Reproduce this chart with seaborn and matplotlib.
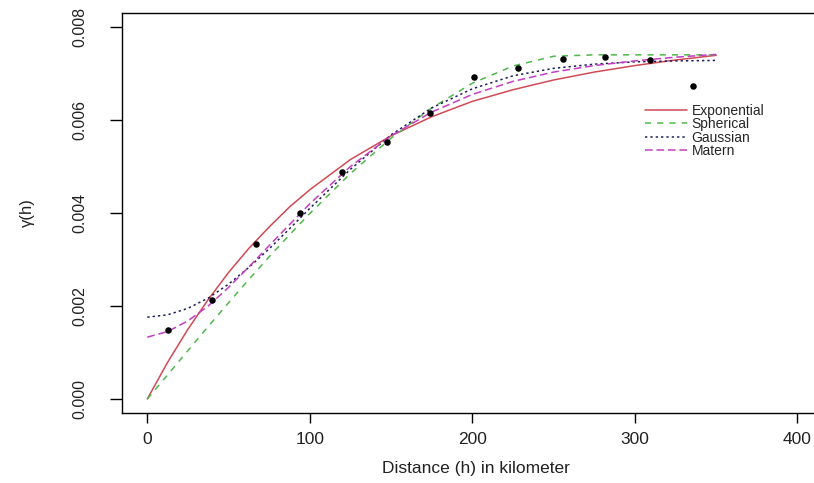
import numpy as np
import pandas as pd
import matplotlib
matplotlib.use("Agg")
import matplotlib.pyplot as plt
import seaborn as sns

# empirical semivariogram (lag distance in km, semivariance)
lag_km = [12.9, 39.6, 66.8, 93.8, 120.0, 147.2, 173.8, 201.0, 228.0, 255.7, 281.5, 309.0, 335.7]
gamma_emp = [0.00148, 0.00213, 0.00333, 0.00401, 0.00488, 0.00552, 0.00614, 0.00692,
             0.00712, 0.00731, 0.00735, 0.00728, 0.00673]

# fitted model curves (denser near the origin)
h_fit = [0, 12.5, 25, 37.5, 50, 62.5, 75, 87.5, 100, 125, 150, 175, 200,
         225, 250, 275, 300, 325, 350]
gamma_exponential = [0.0, 0.00079, 0.00150, 0.00214, 0.00272, 0.00324, 0.00370, 0.00413,
                     0.00450, 0.00515, 0.00566, 0.00607, 0.00640, 0.00665, 0.00686,
                     0.00703, 0.00717, 0.00729, 0.00739]
gamma_spherical = [0.0, 0.00052, 0.00104, 0.00156, 0.00207, 0.00257, 0.00306, 0.00353,
                   0.00399, 0.00485, 0.00561, 0.00626, 0.00679, 0.00716, 0.00737,
                   0.00740, 0.00740, 0.00740, 0.00740]
gamma_gaussian = [0.00176, 0.00181, 0.00195, 0.00217, 0.00247, 0.00283, 0.00323, 0.00366,
                  0.00410, 0.00494, 0.00568, 0.00626, 0.00667, 0.00695, 0.00711,
                  0.00720, 0.00725, 0.00727, 0.00728]
gamma_matern = [0.00133, 0.00145, 0.00168, 0.00200, 0.00240, 0.00284, 0.00330, 0.00375,
                0.00420, 0.00500, 0.00566, 0.00617, 0.00655, 0.00683, 0.00703,
                0.00717, 0.00727, 0.00735, 0.00741]

models = ["Exponential", "Spherical", "Gaussian", "Matern"]
colors = ["#d04a55", "#4fb84a", "#1c1c5c", "#c23ec2"]
styles = ["-", (0, (4, 4)), (0, (1.5, 2)), (0, (5, 2.5))]
curves = [gamma_exponential, gamma_spherical, gamma_gaussian, gamma_matern]

sns.set_style("white")
plt.rcParams["font.family"] = ["Liberation Sans", "DejaVu Sans"]

fig = plt.figure(figsize=(8.14, 4.83), dpi=100)
ax = fig.add_axes([122 / 814, 70 / 483, (830 - 122) / 814, (413 - 13) / 483])

for name, col, ls, vals in zip(models, colors, styles, curves):
    sns.lineplot(x=h_fit, y=vals, ax=ax, color=col, linestyle=ls, linewidth=1.1, label=name)

emp = pd.DataFrame({"h": lag_km, "gamma": gamma_emp})
sns.scatterplot(data=emp, x="h", y="gamma", ax=ax, color="black", s=22,
                edgecolor="black", linewidth=0, zorder=5)

ax.set_xlim(-15.56, 420)
ax.set_ylim(-0.000301, 0.0083)
ax.set_xticks([0, 100, 200, 300, 400])
ax.set_yticks([0.0, 0.002, 0.004, 0.006, 0.008])
ax.set_yticklabels(["0.000", "0.002", "0.004", "0.006", "0.008"], rotation=90, va="center")

for side in ["left", "bottom", "top", "right"]:
    ax.spines[side].set_visible(True)
    ax.spines[side].set_color("black")
    ax.spines[side].set_linewidth(1.0)

ax.tick_params(axis="x", direction="out", length=7, width=1, labelsize=12.5, pad=7,
               colors="black", labelcolor="#222222", bottom=True)
ax.tick_params(axis="y", direction="out", length=9, width=1, labelsize=11.5, pad=16,
               colors="black", labelcolor="#222222", left=True)

ax.set_xlabel("Distance (h) in kilometer", fontsize=12.5, color="#222222", labelpad=10)
ax.set_ylabel("γ(h)", fontsize=12, color="#222222", labelpad=27)

ax.legend(loc="upper left", bbox_to_anchor=(645 / 814, 1 - 104 / 483),
          bbox_transform=fig.transFigure, frameon=False, fontsize=10,
          handlelength=3.0, handletextpad=0.35, labelspacing=-0.05,
          borderpad=0, borderaxespad=0)

fig.savefig("out.png", dpi=100)
